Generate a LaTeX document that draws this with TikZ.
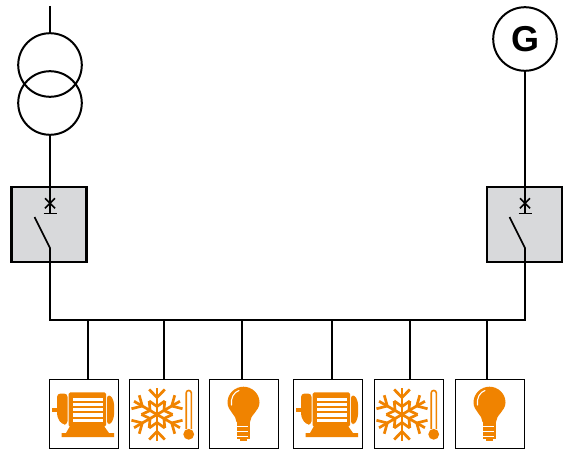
\documentclass[tikz,border=0pt]{standalone}
\usepackage{fontspec}
\setmainfont{Liberation Sans}
\definecolor{iconorange}{HTML}{F08300}
\definecolor{boxgrey}{HTML}{D8D9DB}
\tikzset{
  wire/.style={draw=black,line width=1.6pt},
  switchbox/.style={draw=black,line width=2.4pt,fill=boxgrey,minimum size=75pt,inner sep=0pt,outer sep=0pt},
  loadbox/.style={draw=black,line width=1.8pt,fill=white,minimum size=69pt,inner sep=0pt,outer sep=0pt},
  winding/.style={circle,draw=black,line width=2pt,minimum size=63.6pt,inner sep=0pt,outer sep=0pt},
  motoricon/.pic={
    \fill[iconorange] (3,28.7) rectangle (10,33.3);
    \fill[iconorange,rounded corners=3.5pt] (8,14.5) -- (18.6,14.5) -- (18.6,45.5) -- (13,45.5) -- (8,38) -- cycle;
    \fill[iconorange,rounded corners=1.5pt] (19.7,13.3) rectangle (57,47.7);
    \fill[iconorange,rounded corners=2.5pt] (58,16.5) -- (62,16.5) -- (65,23) -- (65,38) -- (62,45) -- (58,45) -- cycle;
    \fill[iconorange] (21,47) -- (55,47) -- (60,54) -- (65,54) -- (65,58) -- (12.5,58) -- (12.5,54) -- (17,54) -- cycle;
    \foreach \yy in {18.7,23.9,29.1,34.3,39.5}
      \fill[white] (24,\yy) rectangle (54,\yy+3.2);
  },
  flakeicon/.pic={
    \begin{scope}[shift={(28,35.5)}]
      \foreach \aa in {30,90,...,330}{
        \begin{scope}[rotate=\aa]
          \draw[iconorange,line width=2.7pt] (0,0) -- (26.5,0);
          \draw[iconorange,line width=2.7pt] (25,-7.8) -- (17,0) -- (25,7.8);
          \draw[iconorange,line width=2.7pt] (13.5,-7.8) -- (8,0) -- (13.5,7.8);
        \end{scope}
      }
    \end{scope}
    \draw[iconorange,line width=1.6pt,fill=white,rounded corners=2.4pt] (57.2,50) -- (57.2,11.5) -- (62.3,11.5) -- (62.3,50);
    \fill[iconorange] (59.7,55.3) circle (5.4);
  },
  bulbicon/.pic={
    \fill[iconorange] (27.5,43)
      .. controls (27.5,36) and (18.5,32) .. (18.5,23.5)
      .. controls (18.5,14.5) and (26,7.7) .. (34.5,7.7)
      .. controls (43,7.7) and (50.5,14.5) .. (50.5,23.5)
      .. controls (50.5,32) and (41,36) .. (41,43) -- cycle;
    \fill[iconorange] (27.5,42) rectangle (41,59.5);
    \fill[iconorange] (30.5,59) rectangle (38,62);
    \foreach \yy in {46.5,51.5,56.5}
      \fill[white] (27,\yy) rectangle (38.5,\yy+1.5);
    \draw[white,line width=1.1pt,line cap=round] (22.5,26) .. controls (21.5,19) and (25,13) .. (30,11.5);
  }
}
\begin{document}
\begin{tikzpicture}[x=1pt,y=-1pt]
\useasboundingbox (0,0) rectangle (567,452);
% sources
\coordinate (feed) at (50,6);
\node[winding] (tu) at (50,65) {};
\node[winding] (tl) at (50,103) {};
\node[winding,font=\bfseries\fontsize{36}{36}\selectfont] (gen) at (525,39) {G};
% switchgear
\node[switchbox] (swl) at (49,224.7) {};
\node[switchbox] (swr) at (524.5,224.7) {};
\coordinate (barl) at (50,213.3);
\coordinate (barr) at (525,213.3);
\coordinate (kneel) at (50,248);
\coordinate (kneer) at (525,248);
\coordinate (openl) at (34.5,217);
\coordinate (openr) at (509.5,217);
\coordinate (busl) at (50,320);
\coordinate (busr) at (525,320);
% loads
\node[loadbox,anchor=north west] (l1) at (49.5,379.5) {};
\node[loadbox,anchor=north west] (l2) at (129.5,379.5) {};
\node[loadbox,anchor=north west] (l3) at (209.5,379.5) {};
\node[loadbox,anchor=north west] (l4) at (293.5,379.5) {};
\node[loadbox,anchor=north west] (l5) at (374.5,379.5) {};
\node[loadbox,anchor=north west] (l6) at (455.5,379.5) {};
\pic at (49,379) {motoricon};
\pic at (129,379) {flakeicon};
\pic at (209,379) {bulbicon};
\pic at (293,379) {motoricon};
\pic at (374,379) {flakeicon};
\pic at (455,379) {bulbicon};
% taps on the bus
\coordinate (t1) at (88,320);
\coordinate (t2) at (164,320);
\coordinate (t3) at (242,320);
\coordinate (t4) at (332,320);
\coordinate (t5) at (410,320);
\coordinate (t6) at (487,320);
% connectors
\draw[wire] (feed) -- (tu.north);
\draw[wire] (tl.south) -- (barl);
\draw[wire] (gen.south) -- (barr);
\draw[wire] (openl) -- (kneel) -- (busl) -- (busr) -- (kneer) -- (openr);
\foreach \tt/\ll in {t1/l1,t2/l2,t3/l3,t4/l4,t5/l5,t6/l6}
  \draw[wire] (\tt) -- (\tt |- \ll.north);
% breaker marks
\foreach \bb in {barl,barr}{
  \draw[wire] ([xshift=-6.5pt]\bb) -- ([xshift=6.5pt]\bb);
  \draw[wire] ([xshift=-5pt,yshift=15pt]\bb) -- ([xshift=5pt,yshift=5pt]\bb);
  \draw[wire] ([xshift=5pt,yshift=15pt]\bb) -- ([xshift=-5pt,yshift=5pt]\bb);
}
\end{tikzpicture}
\end{document}
